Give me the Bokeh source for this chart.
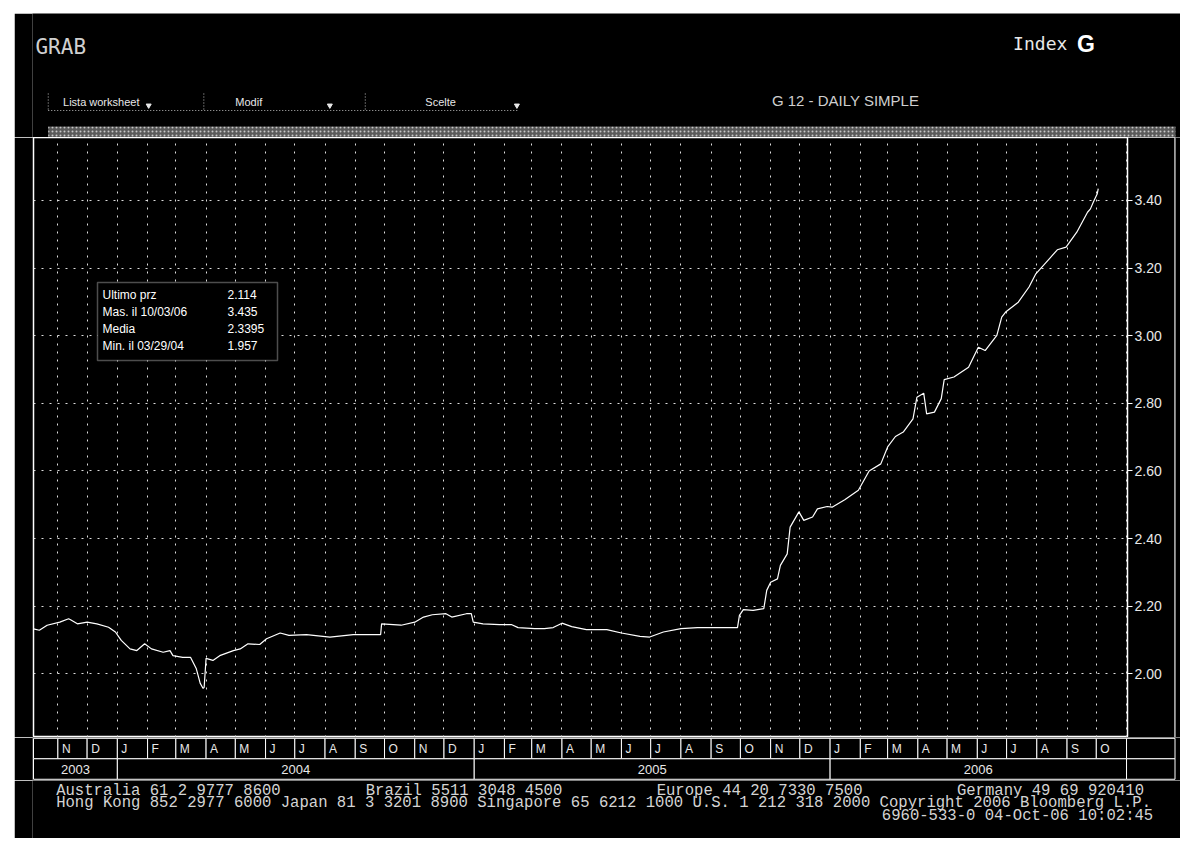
import pandas as pd
from bokeh.plotting import figure
from bokeh.layouts import row, column
from bokeh.models import Range1d, FixedTicker, NumeralTickFormatter, BoxAnnotation, Label, Spacer
from bokeh.core.properties import value
from bokeh.embed import file_html
from bokeh.resources import INLINE

# ---------------- data ----------------
dates = [
    "2003-10-07", "2003-10-13", "2003-10-21", "2003-11-03", "2003-11-12", "2003-11-14",
    "2003-11-21", "2003-12-01", "2003-12-11", "2003-12-23", "2003-12-30", "2004-01-05",
    "2004-01-14", "2004-01-21", "2004-01-29", "2004-02-05", "2004-02-17", "2004-02-24",
    "2004-02-27", "2004-03-08", "2004-03-16", "2004-03-22", "2004-03-26", "2004-03-29",
    "2004-03-30", "2004-04-01", "2004-04-08", "2004-04-15", "2004-04-29", "2004-05-06",
    "2004-05-14", "2004-05-26", "2004-06-02", "2004-06-16", "2004-06-25", "2004-07-13",
    "2004-08-06", "2004-08-30", "2004-09-27", "2004-09-28", "2004-10-18", "2004-11-01",
    "2004-11-10", "2004-11-19", "2004-12-03", "2004-12-09", "2004-12-24", "2004-12-29",
    "2004-12-31", "2005-01-10", "2005-01-27", "2005-02-08", "2005-02-15", "2005-03-04",
    "2005-03-14", "2005-03-23", "2005-04-01", "2005-04-11", "2005-04-26", "2005-05-17",
    "2005-06-01", "2005-06-20", "2005-06-30", "2005-07-14", "2005-08-01", "2005-08-18",
    "2005-09-05", "2005-09-28", "2005-09-30", "2005-10-04", "2005-10-14", "2005-10-25",
    "2005-10-28", "2005-11-01", "2005-11-08", "2005-11-11", "2005-11-18", "2005-11-21",
    "2005-11-30", "2005-12-05", "2005-12-14", "2005-12-19", "2005-12-29", "2006-01-03",
    "2006-01-16", "2006-01-30", "2006-02-10", "2006-02-22", "2006-03-01", "2006-03-09",
    "2006-03-17", "2006-03-27", "2006-03-31", "2006-04-07", "2006-04-10", "2006-04-18",
    "2006-04-25", "2006-04-28", "2006-05-08", "2006-05-23", "2006-06-02", "2006-06-09",
    "2006-06-21", "2006-06-26", "2006-06-30", "2006-07-13", "2006-07-24", "2006-07-31",
    "2006-08-14", "2006-08-22", "2006-08-31", "2006-09-11", "2006-09-22", "2006-09-25",
    "2006-09-28", "2006-10-02", "2006-10-03",
]
prices = [
    2.133, 2.129, 2.144, 2.153, 2.163, 2.160,
    2.148, 2.153, 2.148, 2.138, 2.124, 2.099,
    2.074, 2.069, 2.089, 2.074, 2.064, 2.069,
    2.054, 2.049, 2.049, 2.015, 1.972, 1.957,
    1.960, 2.046, 2.040, 2.054, 2.069, 2.074,
    2.089, 2.087, 2.104, 2.121, 2.114, 2.116,
    2.109, 2.116, 2.116, 2.148, 2.144, 2.153,
    2.168, 2.175, 2.178, 2.168, 2.178, 2.178,
    2.153, 2.148, 2.146, 2.146, 2.137, 2.134,
    2.134, 2.137, 2.150, 2.140, 2.131, 2.131,
    2.121, 2.111, 2.109, 2.124, 2.134, 2.137,
    2.137, 2.137, 2.173, 2.190, 2.188, 2.193,
    2.247, 2.271, 2.281, 2.321, 2.355, 2.434,
    2.479, 2.454, 2.464, 2.488, 2.495, 2.493,
    2.515, 2.543, 2.600, 2.621, 2.671, 2.702,
    2.715, 2.754, 2.818, 2.830, 2.769, 2.774,
    2.814, 2.870, 2.878, 2.907, 2.966, 2.956,
    3.001, 3.055, 3.070, 3.099, 3.144, 3.183,
    3.228, 3.254, 3.262, 3.306, 3.365, 3.375,
    3.395, 3.420, 3.435,
]
y_ticks = [2.00, 2.20, 2.40, 2.60, 2.80, 3.00, 3.20, 3.40]
x_start, x_end = "2003-10-07", "2006-11-02"
y_low, y_high = 1.812, 3.586
month_letters = ["J", "F", "M", "A", "M", "J", "J", "A", "S", "O", "N", "D"]
years = [2003, 2004, 2005, 2006]
stat_names = ["Ultimo prz", "Mas. il  10/03/06", "Media", "Min. il  03/29/04"]
stat_values = ["2.114", "3.435", "2.3395", "1.957"]
footer_segments = [  # (line, column, text)
    (0, 0, "Australia 61 2 9777 8600"),
    (0, 33, "Brazil 5511 3048 4500"),
    (0, 64, "Europe 44 20 7330 7500"),
    (0, 96, "Germany 49 69 920410"),
    (1, 0, "Hong Kong 852 2977 6000 Japan 81 3 3201 8900 Singapore 65 6212 1000 U.S. 1 212 318 2000 Copyright 2006 Bloomberg L.P."),
    (2, 88, "6960-533-0 04-Oct-06 10:02:45"),
]

FG = "#e8e8e8"
SANS = "Liberation Sans"
TERM = "DejaVu Sans Mono"
MONO = "Liberation Mono"
TOTAL_W = 1166

def base_fig(**kw):
    opts = dict(output_backend="svg", toolbar_location=None, title=None,
                background_fill_color="black", border_fill_color="black",
                min_border_left=0, min_border_right=0, min_border_top=0, min_border_bottom=0)
    opts.update(kw)
    return figure(**opts)

# ---------------- header ----------------
HW, HH = TOTAL_W, 124
hdr = base_fig(width=HW, height=HH, x_range=Range1d(0, HW), y_range=Range1d(HH, 0),
               x_axis_location=None, y_axis_location=None, outline_line_color=None)
hdr.grid.visible = False

def htext(x, y, t, size, font=TERM, color=FG, style="normal", align="left"):
    hdr.text(x=[x], y=[y], text=[t], text_font=value(font), text_font_size=size,
             text_color=color, text_font_style=style, text_align=align, text_baseline="middle")

htext(3, 33, "GRAB", "21px", color="#d0d0d0")
htext(996, 30, "Index", "18px")
htext(1061, 30, "G", "23px", font=SANS, style="bold", color="white")
htext(31, 88, "Lista worksheet", "11px", font=SANS)
htext(206, 88, "Modif", "11px", font=SANS)
htext(399, 88, "Scelte", "11px", font=SANS)
hdr.scatter(x=[118, 302, 492], y=[92, 92, 92], marker="inverted_triangle", size=5,
            color=FG)
htext(751, 87, "G 12 - DAILY SIMPLE", "15px", font=SANS, color="#cfcfcf")
hdr.segment(x0=[16], y0=[97], x1=[493], y1=[97], line_color="#bbbbbb", line_dash="1 2")
hdr.segment(x0=[16, 174, 338], y0=[80, 80, 80], x1=[16, 174, 338], y1=[97, 97, 97],
            line_color="#bbbbbb", line_dash="1 2")
hdr.quad(left=[16], right=[1161], top=[113], bottom=[124], fill_color="#5a5a5a",
         hatch_pattern="dot", hatch_color="#c8c8c8", hatch_scale=4, line_color=None)

# ---------------- main chart ----------------
xs = pd.Timestamp(x_start)
xe = pd.Timestamp(x_end)
p = base_fig(width=1160, height=600, x_axis_type="datetime",
             x_range=Range1d(xs, xe), y_range=Range1d(y_low, y_high),
             x_axis_location=None, y_axis_location="right",
             min_border_left=19, min_border_right=47,
             outline_line_color="white", outline_line_width=1.5)

month_starts = pd.date_range("2003-10-01", "2006-11-01", freq="MS")
grid_months = [t for t in month_starts if xs < t < xe]
p.xgrid.ticker = FixedTicker(ticks=[t.value / 1e6 for t in grid_months])
p.ygrid.ticker = FixedTicker(ticks=y_ticks)
for g in (p.xgrid, p.ygrid):
    g.grid_line_color = "#dddddd"
    g.grid_line_dash = "2 6"
    g.grid_line_width = 1

ax = p.yaxis[0]
ax.ticker = FixedTicker(ticks=y_ticks)
ax.formatter = NumeralTickFormatter(format="0.00")
ax.major_label_text_color = FG
ax.major_label_text_font = SANS
ax.major_label_text_font_size = "14px"
ax.major_tick_out = 5
ax.major_tick_in = 0
ax.minor_tick_line_color = None
ax.major_tick_line_color = "white"
ax.axis_line_color = "white"
ax.major_label_standoff = 2

p.line(x=pd.to_datetime(dates), y=prices, line_color="white", line_width=1.2)

# statistics box
p.add_layout(BoxAnnotation(left=64, right=244, top=455, bottom=377,
                           left_units="screen", right_units="screen",
                           top_units="screen", bottom_units="screen",
                           fill_color="black", fill_alpha=1.0,
                           line_color="white", line_width=1.5))
for i, (nm, vl) in enumerate(zip(stat_names, stat_values)):
    yy = 443 - i * 17
    p.add_layout(Label(x=69, y=yy, x_units="screen", y_units="screen", text=nm,
                       text_color="white", text_font=SANS, text_font_size="12px",
                       text_baseline="middle"))
    p.add_layout(Label(x=194, y=yy, x_units="screen", y_units="screen", text=vl,
                       text_color="white", text_font=SANS, text_font_size="12px",
                       text_baseline="middle"))

# outer frame line at the right of the axis labels
EW = TOTAL_W - 1160
edge = base_fig(width=EW, height=600, x_range=Range1d(0, EW), y_range=Range1d(0, 1),
                x_axis_location=None, y_axis_location=None, outline_line_color=None)
edge.grid.visible = False
edge.quad(left=[0], right=[1], top=[1], bottom=[0], fill_color="white", line_color=None)

# ---------------- month / year rows ----------------
ms_per_px = (xe - xs).total_seconds() * 1000 / 1094.0
xs_ms = xs.value / 1e6
mw = TOTAL_W
mfr = mw - 18
mrange = Range1d(xs_ms - ms_per_px, xs_ms - ms_per_px + mfr * ms_per_px)
tail_right = xs_ms + 1141.5 * ms_per_px
mf = base_fig(width=mw, height=43, x_range=mrange, y_range=Range1d(-0.06, 2.04),
              x_axis_location=None, y_axis_location=None, min_border_left=18,
              outline_line_color=None)
mf.grid.visible = False

m_left, m_right, m_lab_x, m_lab = [], [], [], []
for a, b in zip(month_starts[:-1], month_starts[1:]):
    l = max(a.value / 1e6, xs_ms)
    m_left.append(l)
    m_right.append(b.value / 1e6)
    if a >= xs:
        m_lab_x.append(a.value / 1e6)
        m_lab.append(month_letters[a.month - 1])
last_m = month_starts[-1].value / 1e6
m_left.append(last_m)
m_right.append(tail_right)
mf.quad(left=m_left, right=m_right, top=2, bottom=1, fill_color="black",
        line_color="white", line_width=1)
mf.text(x=m_lab_x, y=[1.5] * len(m_lab_x), text=m_lab, x_offset=4,
        text_font=value(SANS), text_font_size="12px", text_color=FG,
        text_baseline="middle")

y_left, y_right, y_mid = [], [], []
for yr in years:
    l = max(pd.Timestamp(f"{yr}-01-01").value / 1e6, xs_ms)
    r = min(pd.Timestamp(f"{yr + 1}-01-01").value / 1e6, last_m)
    y_left.append(l)
    y_right.append(r)
    y_mid.append((l + r) / 2)
y_left.append(last_m)
y_right.append(tail_right)
mf.quad(left=y_left, right=y_right, top=1, bottom=0, fill_color="black",
        line_color="white", line_width=1)
mf.text(x=y_mid, y=[0.5] * len(years), text=[str(y) for y in years],
        text_font=value(SANS), text_font_size="13px", text_color=FG,
        text_align="center", text_baseline="middle")

# ---------------- footer ----------------
FW, FH = TOTAL_W, 58
ft = base_fig(width=FW, height=FH, x_range=Range1d(0, FW), y_range=Range1d(FH, 0),
              x_axis_location=None, y_axis_location=None, outline_line_color=None)
ft.grid.visible = False
CH = 9.53
line_y = [10, 22.5, 35]
ft.text(x=[24 + c * CH for (_, c, _) in footer_segments],
        y=[line_y[ln] for (ln, _, _) in footer_segments],
        text=[t for (_, _, t) in footer_segments],
        text_font=value(MONO), text_font_size="15.6px", text_color="#d4d4d4",
        text_baseline="middle")

layout = row(Spacer(width=14),
             column(Spacer(height=13), hdr, row(p, edge), mf, ft))

open("out.html", "w").write(file_html(layout, INLINE))
